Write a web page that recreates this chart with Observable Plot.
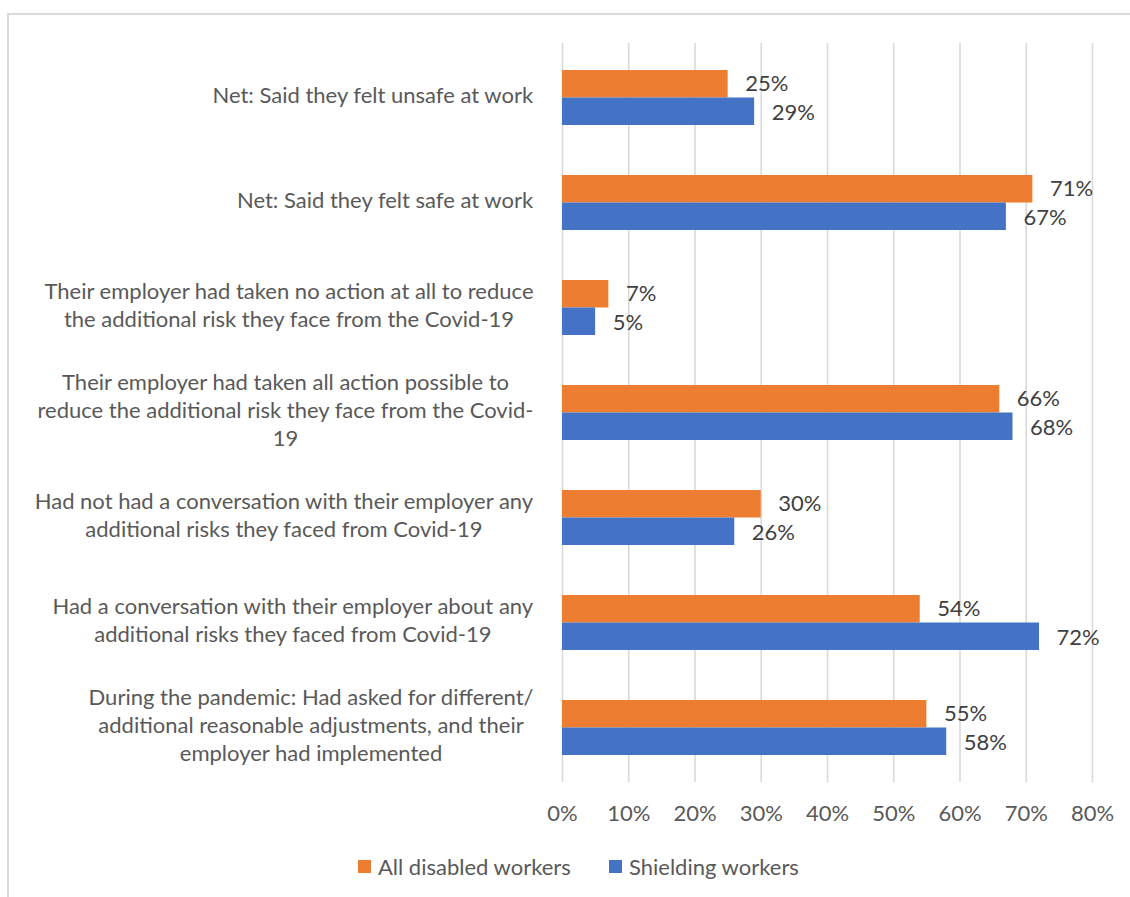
<!DOCTYPE html>
<html>
<head>
<meta charset="utf-8">
<script src="https://cdn.jsdelivr.net/npm/d3@7"></script>
<script src="https://cdn.jsdelivr.net/npm/@observablehq/plot@0.6"></script>
<style>
  html, body { margin: 0; padding: 0; background: #fff; overflow: hidden; }
  body { font-family: Lato, "Open Sans", sans-serif; }
  #page { position: relative; width: 1130px; height: 897px; }
  #frame { position: absolute; left: 7px; top: 13px; width: 1200px; height: 1000px; z-index: 5;
           border: 2px solid #d9d9d9; box-sizing: border-box; pointer-events: none; }
  #chart { position: absolute; left: 0; top: 0; }
  #legend { position: relative; height: 40px; font-size: 22px; color: #595959; }
  .item { position: absolute; top: 6px; display: flex; align-items: center; height: 30px; white-space: nowrap; }
  .swatch { width: 13px; height: 13px; margin-right: 7px; }
</style>
</head>
<body>
<div id="page">
  <div id="chart"></div>
  <div id="frame"></div>
</div>
<script>
// ---- Data ----
const categories = [
  "Net: Said they felt unsafe at work",
  "Net: Said they felt safe at work",
  "Their employer had taken no action at all to reduce the additional risk they face from the Covid-19",
  "Their employer had taken all action possible to reduce the additional risk they face from the Covid-19",
  "Had not had a conversation with their employer any additional risks they faced from Covid-19",
  "Had a conversation with their employer about any additional risks they faced from Covid-19",
  "During the pandemic: Had asked for different/ additional reasonable adjustments, and their employer had implemented"
];
const categoryLabelLines = [
  ["Net: Said they felt unsafe at work"],
  ["Net: Said they felt safe at work"],
  ["Their employer had taken no action at all to reduce", "the additional risk they face from the Covid-19"],
  ["Their employer had taken all action possible to", "reduce the additional risk they face from the Covid-", "19"],
  ["Had not had a conversation with their employer any", "additional risks they faced from Covid-19"],
  ["Had a conversation with their employer about any", "additional risks they faced from Covid-19"],
  ["During the pandemic: Had asked for different/", "additional reasonable adjustments, and their", "employer had implemented"]
];
const seriesNames = ["All disabled workers", "Shielding workers"];
const allDisabledValues = [25, 71, 7, 66, 30, 54, 55];
const shieldingValues   = [29, 67, 5, 68, 26, 72, 58];
const xTicks = [0, 10, 20, 30, 40, 50, 60, 70, 80];
const seriesColors = ["#ED7D31", "#4472C4"];

// ---- Table ----
const rows = categories.flatMap((c, i) => [
  {category: c, series: seriesNames[0], value: allDisabledValues[i]},
  {category: c, series: seriesNames[1], value: shieldingValues[i]}
]);
const rowsA = rows.filter(d => d.series === seriesNames[0]);
const rowsB = rows.filter(d => d.series === seriesNames[1]);
const labelOf = new Map(categories.map((c, i) => [c, categoryLabelLines[i].join("\n")]));

const W = 1130, H = 845;
const FS = 22;
const halfBand = 27.5;

const chart = Plot.plot({
  width: W,
  height: H,
  marginTop: 43,
  marginBottom: H - 782,
  marginLeft: 562,
  marginRight: W - 1092,
  style: {fontFamily: "Lato, 'Open Sans', sans-serif", fontSize: FS + "px", color: "#595959", background: "transparent", overflow: "visible"},
  x: {domain: [0, 80]},
  y: {domain: categories, paddingInner: 0.48, paddingOuter: 0.24},
  color: {domain: seriesNames, range: seriesColors},
  marks: [
    Plot.ruleX(xTicks, {x: d => d, stroke: "#d9d9d9", strokeWidth: 1.6}),
    Plot.barX(rowsA, {x: "value", y: "category", fill: "series", insetBottom: halfBand}),
    Plot.barX(rowsB, {x: "value", y: "category", fill: "series", insetTop: halfBand}),
    Plot.text(rowsA, {x: "value", y: "category", text: d => d.value + "%", textAnchor: "start",
      dx: 17, dy: -14, fill: "#404040", fontSize: FS}),
    Plot.text(rowsB, {x: "value", y: "category", text: d => d.value + "%", textAnchor: "start",
      dx: 17, dy: 14.5, fill: "#404040", fontSize: FS}),
    Plot.axisX({anchor: "bottom", ticks: xTicks, tickFormat: d => d + "%", tickSize: 0,
      tickPadding: 23, label: null, fontSize: FS}),
    Plot.axisY({anchor: "left", tickSize: 0, tickPadding: 29, label: null, dy: -3.5,
      tickFormat: c => labelOf.get(c), lineHeight: 28 / FS, fontSize: FS})
  ]
});

document.getElementById("chart").append(chart);

// center lines of each multi-line category label within its right-aligned block
chart.querySelectorAll('[aria-label="y-axis tick label"] text').forEach(t => {
  const w = t.getBBox().width;
  t.setAttribute("text-anchor", "middle");
  const tr = t.getAttribute("transform") || "";
  t.setAttribute("transform", tr + ` translate(${-w / 2},0)`);
});

// ---- Legend (below the SVG) ----
const legend = document.createElement("div");
legend.id = "legend";
const legendLefts = [358, 609];
seriesNames.forEach((name, i) => {
  const item = document.createElement("div");
  item.className = "item";
  item.style.left = legendLefts[i] + "px";
  const sw = document.createElement("span");
  sw.className = "swatch";
  sw.style.background = seriesColors[i];
  const tx = document.createElement("span");
  tx.textContent = name;
  item.append(sw, tx);
  legend.append(item);
});
document.getElementById("chart").append(legend);
</script>
</body>
</html>
